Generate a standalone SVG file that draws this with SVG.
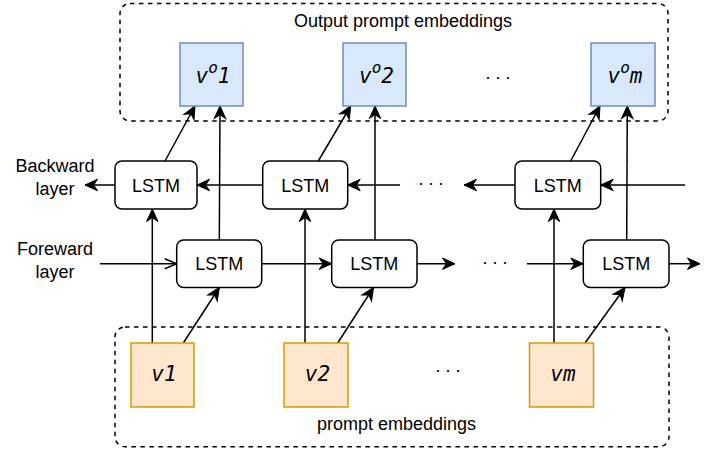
<svg xmlns="http://www.w3.org/2000/svg" width="721" height="450" viewBox="0 0 721 450">
<style>
text{font-family:"Liberation Sans",Arial,sans-serif;font-size:18px;fill:#000}
.mono{font-family:"DejaVu Sans Mono",monospace;font-style:italic;font-size:21px}
.grp{fill:none;stroke:#000;stroke-width:1.5;stroke-dasharray:4.5 4.5}
.out{fill:#dae8fc;stroke:#6c8ebf;stroke-width:1.5}
.in{fill:#ffe6cc;stroke:#d79b00;stroke-width:1.5}
.lstm{fill:#fff;stroke:#000;stroke-width:1.5}
.e{fill:none;stroke:#000;stroke-width:1.5;marker-end:url(#arr)}
.eo{fill:none;stroke:#000;stroke-width:1.5;marker-end:url(#open)}
</style>
<defs>
<marker id="arr" markerUnits="userSpaceOnUse" markerWidth="13" markerHeight="12" refX="12.5" refY="6" orient="auto" overflow="visible">
<path d="M12.5,6 L0,0.3 L3.8,6 L0,11.7 Z" fill="#000" stroke="#000" stroke-width="1"/>
</marker>
<marker id="open" markerUnits="userSpaceOnUse" markerWidth="13" markerHeight="12" refX="12" refY="6" orient="auto" overflow="visible">
<path d="M0,1 L12,6 L0,11" fill="none" stroke="#000" stroke-width="1.5"/>
</marker>
</defs>
<g id="group-output">
<rect class="grp" x="120" y="3.5" width="548" height="117.5" rx="10"/>
<text x="403" y="27" text-anchor="middle">Output prompt embeddings</text>
</g>
<g id="group-input">
<rect class="grp" x="115" y="327" width="554" height="119.7" rx="10"/>
<text x="396.5" y="430" text-anchor="middle">prompt embeddings</text>
</g>
<g id="connectors">
<!-- backward layer -->
<line class="e" x1="262.7" y1="185" x2="197" y2="185"/>
<line class="e" x1="400" y1="185" x2="347.7" y2="185"/>
<line class="e" x1="515" y1="185" x2="464" y2="185"/>
<line class="e" x1="685" y1="185" x2="600.7" y2="185"/>
<line class="e" x1="115" y1="185" x2="85" y2="185"/>
<!-- forward layer -->
<line class="eo" x1="100" y1="263.7" x2="176.7" y2="263.7"/>
<line class="e" x1="261.7" y1="263.7" x2="331.7" y2="263.7"/>
<line class="e" x1="417" y1="263.7" x2="455" y2="263.7"/>
<line class="e" x1="527" y1="263.7" x2="583.3" y2="263.7"/>
<line class="e" x1="669" y1="263.7" x2="700" y2="263.7"/>
<!-- inputs -->
<line class="e" x1="152.3" y1="343" x2="152.3" y2="209"/>
<line class="e" x1="183.3" y1="343" x2="219.3" y2="287.5"/>
<line class="e" x1="305" y1="343" x2="305" y2="209"/>
<line class="e" x1="337.7" y1="343" x2="373.5" y2="287.5"/>
<line class="e" x1="554" y1="343" x2="554" y2="209"/>
<line class="e" x1="585" y1="343" x2="625" y2="287.5"/>
<!-- outputs -->
<line class="e" x1="165" y1="161" x2="195" y2="106"/>
<line class="e" x1="219.3" y1="240" x2="220" y2="106"/>
<line class="e" x1="318.3" y1="161" x2="350.7" y2="106"/>
<line class="e" x1="375" y1="240" x2="375" y2="106"/>
<line class="e" x1="570.7" y1="161" x2="600" y2="106"/>
<line class="e" x1="626.7" y1="240" x2="627.3" y2="106"/>
</g>
<g id="label-backward">
<text x="55" y="171.5" text-anchor="middle">Backward</text>
<text x="55" y="194.5" text-anchor="middle">layer</text>
</g>
<g id="label-foreward">
<text x="55" y="255" text-anchor="middle">Foreward</text>
<text x="55" y="277.5" text-anchor="middle">layer</text>
</g>
<g id="dots">
<text x="485.5" y="79">. . .</text>
<text x="418.5" y="184.5">. . .</text>
<text x="482.5" y="263.5">. . .</text>
<text x="435.5" y="372">. . .</text>
</g>
<g id="bwd1"><rect class="lstm" x="115" y="161" width="82" height="48" rx="7"/><text x="156" y="191.5" text-anchor="middle">LSTM</text></g>
<g id="bwd2"><rect class="lstm" x="262.7" y="161" width="85" height="48" rx="7"/><text x="305.2" y="191.5" text-anchor="middle">LSTM</text></g>
<g id="bwd3"><rect class="lstm" x="515" y="161" width="85.7" height="48" rx="7"/><text x="557.8" y="191.5" text-anchor="middle">LSTM</text></g>
<g id="fwd1"><rect class="lstm" x="176.7" y="240" width="85" height="47.5" rx="7"/><text x="219.2" y="270.2" text-anchor="middle">LSTM</text></g>
<g id="fwd2"><rect class="lstm" x="331.7" y="240" width="85.3" height="47.5" rx="7"/><text x="374.3" y="270.2" text-anchor="middle">LSTM</text></g>
<g id="fwd3"><rect class="lstm" x="583.3" y="240" width="85.7" height="47.5" rx="7"/><text x="626.2" y="270.2" text-anchor="middle">LSTM</text></g>
<g id="out1"><rect class="out" x="180" y="43" width="63" height="63"/><text class="mono" x="213" y="83" text-anchor="middle">v<tspan font-size="16" dy="-10">o</tspan><tspan dy="10">1</tspan></text></g>
<g id="out2"><rect class="out" x="343" y="43" width="63" height="63"/><text class="mono" x="376.5" y="83" text-anchor="middle">v<tspan font-size="16" dy="-10">o</tspan><tspan dy="10">2</tspan></text></g>
<g id="outm"><rect class="out" x="591" y="43" width="64" height="63"/><text class="mono" x="625" y="83" text-anchor="middle">v<tspan font-size="16" dy="-10">o</tspan><tspan dy="10">m</tspan></text></g>
<g id="in1"><rect class="in" x="131" y="343" width="63" height="64"/><text class="mono" x="164" y="381" text-anchor="middle">v1</text></g>
<g id="in2"><rect class="in" x="284" y="343" width="64" height="64"/><text class="mono" x="317.5" y="381" text-anchor="middle">v2</text></g>
<g id="inm"><rect class="in" x="529.5" y="343" width="64" height="64"/><text class="mono" x="563" y="381" text-anchor="middle">vm</text></g>
</svg>
